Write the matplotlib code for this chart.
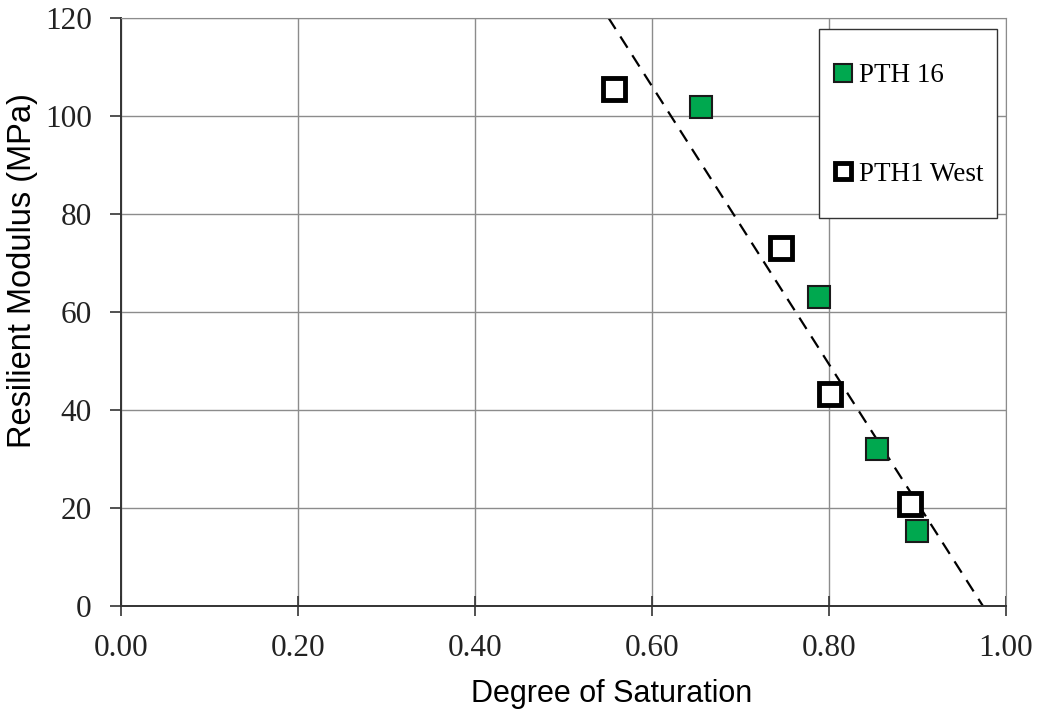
import matplotlib
matplotlib.use("Agg")
import matplotlib.pyplot as plt
from matplotlib.patches import Rectangle
import numpy as np

# degree of saturation vs resilient modulus (MPa)
pth16_sat = [0.655, 0.789, 0.854, 0.900]
pth16_mr = [101.8, 63.1, 32.0, 15.3]
pth1w_sat = [0.557, 0.746, 0.801, 0.892]
pth1w_mr = [105.5, 73.1, 43.3, 20.8]

# trend line Mr = a + b*S
trend_a = 276.3
trend_b = -283.7

serif = "Liberation Serif"
sans = "Liberation Sans"

fig = plt.figure(figsize=(10.4, 7.13), dpi=100)
ax = fig.add_axes([0.1163, 0.1501, 0.851, 0.8247])

xs = np.linspace(0, 1, 200)
ax.plot(xs, trend_a + trend_b * xs, color="black", lw=1.6, ls=(0, (6, 4)), zorder=2)

ax.plot(pth16_sat, pth16_mr, ls="none", marker="s", ms=16.5, mfc="#00a84f",
        mec="#1a1a1a", mew=1.5, label="PTH 16", zorder=3)
ax.plot(pth1w_sat, pth1w_mr, ls="none", marker="s", ms=16, mfc="white",
        mec="black", mew=3.5, label="PTH1 West", zorder=3)

ax.set_xlim(0, 1)
ax.set_ylim(0, 120)
ax.set_xticks(np.arange(0, 1.01, 0.2))
ax.set_yticks(np.arange(0, 121, 20))
ax.set_xticklabels(["%.2f" % v for v in np.arange(0, 1.01, 0.2)])
ax.grid(True, color="#8c8c8c", lw=1.0, zorder=0)
ax.set_axisbelow(True)

for lab in ax.get_xticklabels() + ax.get_yticklabels():
    lab.set_fontfamily(serif)
    lab.set_fontsize(22.5)
    lab.set_color("#222222")
ax.tick_params(axis="x", direction="inout", length=14.5, width=1.2, color="#333333", pad=13)
ax.tick_params(axis="y", direction="out", length=8, width=1.2, color="#333333", pad=13)

ax.spines["left"].set_color("#333333")
ax.spines["bottom"].set_color("#333333")
ax.spines["left"].set_linewidth(1.4)
ax.spines["bottom"].set_linewidth(1.4)
ax.spines["top"].set_color("#8c8c8c")
ax.spines["right"].set_color("#8c8c8c")

ax.set_xlabel("Degree of Saturation", fontfamily=sans, fontsize=22)
ax.set_ylabel("Resilient Modulus (MPa)", fontfamily=sans, fontsize=23.5)
ax.xaxis.set_label_coords(0.554, -0.124)
ax.yaxis.set_label_coords(-0.094, 0.570)

# legend box drawn separately so the padding can be set per side
ax.add_patch(Rectangle((0.7887, 0.660), 0.2011, 0.321, transform=ax.transAxes,
                       facecolor="white", edgecolor="#333333", lw=1.0, zorder=4))
leg = ax.legend(loc="center", bbox_to_anchor=(0.8905, 0.818), frameon=False,
                markerscale=0.75, handlelength=0.6, handletextpad=0.3,
                labelspacing=2.7, borderpad=0, borderaxespad=0,
                prop={"family": serif, "size": 19.5})
leg.set_zorder(5)

fig.savefig("out.png", dpi=100, facecolor="white")
